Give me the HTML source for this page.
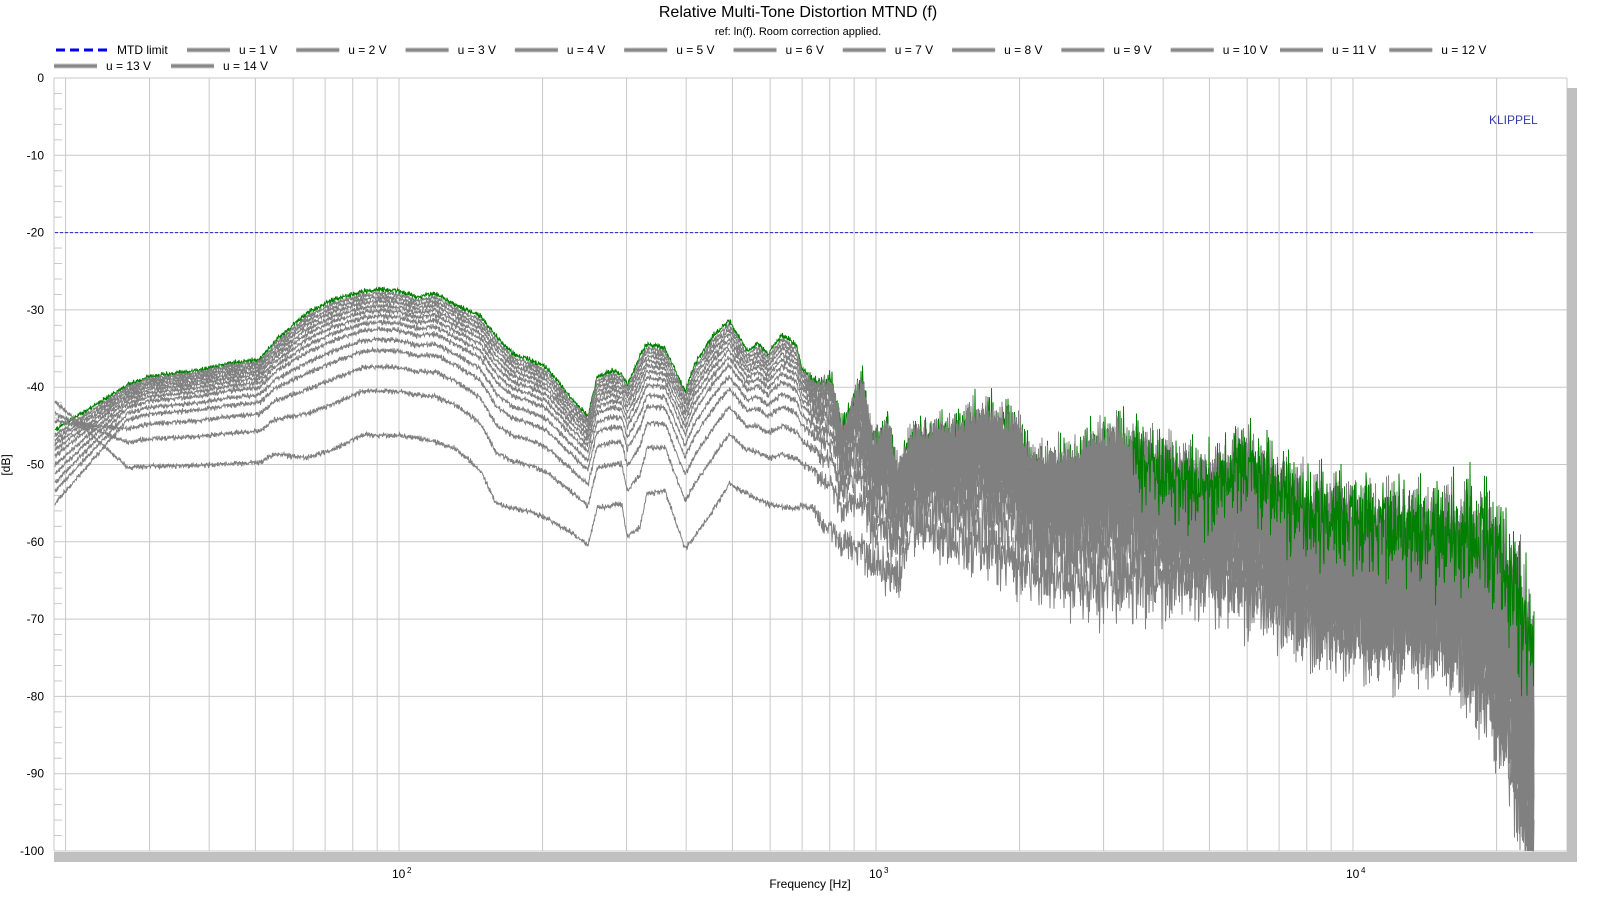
<!DOCTYPE html>
<html><head><meta charset="utf-8"><title>Relative Multi-Tone Distortion MTND (f)</title>
<style>
html,body{margin:0;padding:0;background:#fff;}
body{width:1600px;height:900px;overflow:hidden;font-family:"Liberation Sans",Arial,sans-serif;}
svg text{font-family:"Liberation Sans",Arial,sans-serif;}
</style></head>
<body>
<svg id="chart" width="1600" height="900" viewBox="0 0 1600 900" xmlns="http://www.w3.org/2000/svg">
  <text x="798" y="17" text-anchor="middle" font-size="16" fill="#000">Relative Multi-Tone Distortion MTND (f)</text>
  <text x="798" y="35" text-anchor="middle" font-size="11" fill="#000">ref: ln(f). Room correction applied.</text>
  <g id="legend"></g>
  <g id="grid"></g>
  <g id="axes"></g>
  <g id="series"></g>
  <text x="1489" y="124" font-size="12" fill="#3040a8">KLIPPEL</text>
  <text x="0" y="0" font-size="12" fill="#000" text-anchor="middle" transform="translate(10,465) rotate(-90)">[dB]</text>
  <text x="810" y="888" font-size="12" fill="#000" text-anchor="middle">Frequency [Hz]</text>
</svg>
<script>
// ---- data ----
const voltages = [1,2,3,4,5,6,7,8,9,10,11,12,13,14];
const levelsAt100 = [-45.8,-40.1,-37.0,-34.9,-33.5,-32.2,-31.3,-30.5,-29.8,-29.2,-28.6,-28.1,-27.6,-27.1];
const lf19 = [-41.3,-43.0,-44.0,-54.8,-53.2,-52.1,-50.9,-49.8,-48.6,-47.8,-47.1,-46.5,-45.9,-45.2];
const envFreq = [27,30,38,44,51,55,64,73,84,91,100,109,119,132,148,160,173,188,204,232,249,260,281,293,301,320,331,361,398,417,455,492,537,566,594,635,682,699,738,770,808,849,882,939,986,1055,1112,1196,1500,1652,1710,1946,2164,2317,2513,2964,3125,3560,4132,5012,5910,6570,7555,8090,10910,15600,18730,20840,21980,23170,23960];
const topEnv = [-39.3,-38.2,-37.4,-36.5,-36.0,-33.6,-30.0,-28.2,-27.2,-26.9,-27.1,-27.9,-27.4,-29.0,-30.3,-33.0,-35.2,-36.0,-37.0,-41.3,-43.3,-38.2,-37.4,-37.8,-39.3,-35.5,-33.9,-34.5,-40.1,-36.5,-32.9,-30.9,-34.8,-33.9,-35.2,-32.7,-34.1,-37.1,-38.2,-38.0,-37.3,-43.6,-40.1,-36.6,-43.9,-41.9,-47.0,-43.0,-41.5,-39.5,-40.0,-40.7,-46.0,-45.0,-45.0,-42.0,-41.5,-42.5,-44.5,-46.0,-42.0,-44.5,-47.0,-48.5,-49.0,-50.0,-49.5,-52.5,-55.0,-58.0,-62.0];
const botEnv = [-50.0,-49.8,-49.7,-49.5,-49.3,-48.2,-48.7,-47.6,-45.7,-45.8,-45.8,-46.1,-46.6,-47.6,-50.3,-54.6,-55.2,-55.6,-56.5,-58.5,-60.0,-55.2,-54.8,-54.6,-58.9,-57.6,-53.3,-52.9,-60.4,-58.8,-55.5,-52.0,-53.3,-54.0,-54.6,-55.0,-55.2,-54.8,-54.6,-56.3,-56.5,-58.0,-57.5,-57.7,-59.0,-59.5,-60.5,-53.0,-55.0,-55.0,-55.0,-56.5,-58.0,-58.0,-58.5,-59.0,-58.5,-58.0,-57.5,-57.0,-58.0,-59.0,-61.0,-62.0,-63.0,-62.0,-68.0,-74.0,-78.0,-82.0,-85.0];
const depthFreq = [19,700,1000,2000,5000,10000,20000,24000];
const depthDb = [0.8,1.0,8,12,15,17,20,28];
const spreadFreq = [19,3000,6000,10000,24000];
const spreadExp = [1,1,1.8,2.6,2.6];
const ripple = [0.55,0.2,0.8,0.4,0.95,0.1,0.6,0.35,0.75,0.0,0.5,0.9,0.3,0.65,0.15,0.85,0.45,0.7,0.05,0.6,0.25,1.0,0.4,0.8,0.3,0.55,0.12,0.9,0.5,0.7,0.2,0.65,0.38];
const ripple2 = [0.3,0.9,0.1,0.7,0.5,1.0,0.2,0.6,0.0,0.8,0.4,0.95,0.15,0.55,0.75,0.35,0.85,0.05,0.65,0.45,0.25,0.9,0.6,0.1,0.7,0.5,0.3,0.8,0.2];
const mtdLimit = -20;
const yTicks = [0,-10,-20,-30,-40,-50,-60,-70,-80,-90,-100];
const xDecades = [100,1000,10000];
const xDecadeExp = ['2','3','4'];
const GREEN_ON_TOP_FROM = 3500;

// ---- axes ----
const X0 = 54, X1 = 1567, Y0 = 78, Y1 = 851;
const PX_DEC = 477, X100 = 399;
const F_MIN = 18.9, F_DATA_END = 24000;
function xs(f){ return X100 + (Math.log10(f) - 2) * PX_DEC; }
function ys(db){ return Y0 + (0 - db) * (Y1 - Y0) / 100; }
function interpLog(fArr, vArr, f){
  const lf = Math.log10(f);
  if (f <= fArr[0]) return vArr[0];
  if (f >= fArr[fArr.length-1]) return vArr[vArr.length-1];
  for (let i=1;i<fArr.length;i++){
    if (f <= fArr[i]){
      const a=Math.log10(fArr[i-1]), b=Math.log10(fArr[i]);
      const t=(lf-a)/(b-a);
      return vArr[i-1] + t*(vArr[i]-vArr[i-1]);
    }
  }
}
const NS = 'http://www.w3.org/2000/svg';
function mk(tag, attrs, parent){
  const e=document.createElementNS(NS,tag);
  for (const k in attrs) e.setAttribute(k, attrs[k]);
  parent.appendChild(e); return e;
}

// grid
const grid = document.getElementById('grid');
for (let d=10; d<=10000; d*=10){
  for (let m=1;m<=9;m++){
    const f=d*m; if (f<20 || f>20000) continue;
    const x=xs(f);
    const gl = mk('line',{x1:x,y1:Y0,x2:x,y2:Y1,stroke:'#c8c8c8','stroke-width':1},grid);
    
    
  }
}
yTicks.forEach(v=>{
  const y=ys(v);
  const gl = mk('line',{x1:X0,y1:y,x2:X1,y2:y,stroke:'#c8c8c8','stroke-width':1},grid);
  
  
});
for (let v=0; v>-100; v-=2){
  if (v%10===0) continue;
  const y=ys(v);
  const t = mk('line',{x1:X0,y1:y,x2:X0+8,y2:y,stroke:'#c8c8c8','stroke-width':1},grid);
  
  
}
// frame
const axes = document.getElementById('axes');
const fr1 = mk('line',{x1:X0,y1:Y0,x2:X1,y2:Y0,stroke:'#c8c8c8','stroke-width':1},axes);
 
const fr2 = mk('line',{x1:X0,y1:Y0,x2:X0,y2:Y1,stroke:'#c8c8c8','stroke-width':1},axes);
 
const fr3 = mk('line',{x1:X1,y1:Y0,x2:X1,y2:Y1,stroke:'#c8c8c8','stroke-width':1},axes);
 
const sh1 = mk('rect',{x:X1,y:88,width:10,height:Y1+11-88,fill:'#c0c0c0'},axes);
 
const sh2 = mk('rect',{x:X0,y:Y1+1,width:X1+10-X0,height:10,fill:'#c0c0c0'},axes);
 
yTicks.forEach(v=>{
  const t = mk('text',{x:44,y:ys(v)+4,'text-anchor':'end','font-size':12,fill:'#000'},axes);
  t.textContent = String(v);
  
  
});
xDecades.forEach((f,i)=>{
  const t = mk('text',{x:xs(f)-7,y:878,'font-size':12,fill:'#000'},axes);
  t.textContent='10';
  
  
  const s = mk('text',{x:xs(f)+8,y:873,'font-size':8,fill:'#000'},axes);
  s.textContent=xDecadeExp[i];
  
  
});

// series
const series = document.getElementById('series');
const topAt100 = interpLog(envFreq, topEnv, 100), botAt100 = interpLog(envFreq, botEnv, 100);
const weights = levelsAt100.map(l => (l - botAt100) / (topAt100 - botAt100));
function level(i, f){
  const t = interpLog(envFreq, topEnv, f), b = interpLog(envFreq, botEnv, f);
  const p = interpLog(spreadFreq, spreadExp, f);
  return b + Math.pow(weights[i], p)*(t-b);
}
const xEnd = xs(F_DATA_END);
function curvePoints(i, fLo, fHi){
  const pts=[];
  let k=0;
  for (let x=X0+1; x<=xEnd; x+=0.5, k++){
    const f = Math.pow(10, 2 + (x - X100)/PX_DEC);
    if (f < fLo || f > fHi) continue;
    let v;
    if (f < envFreq[0]){
      const t = (Math.log10(f)-Math.log10(F_MIN))/(Math.log10(envFreq[0])-Math.log10(F_MIN));
      v = lf19[i] + Math.max(0,t)*(level(i,envFreq[0]) - lf19[i]);
    } else {
      v = level(i,f);
    }
    const d = interpLog(depthFreq, depthDb, f);
    const r = 0.6*ripple[(k*7 + i*5) % ripple.length] + 0.4*ripple2[(k*5 + i*3) % ripple2.length];
    v -= d * r;
    if (v < -100) v = -100;
    pts.push(x.toFixed(1)+','+ys(v).toFixed(1));
  }
  return pts.join(' ');
}
const G = voltages.length-1;
const gLow = mk('polyline',{points:curvePoints(G,0,GREEN_ON_TOP_FROM),fill:'none',stroke:'#008000','stroke-width':1},series);


for (let i=0;i<G;i++){
  const p = mk('polyline',{points:curvePoints(i,0,1e9),fill:'none',stroke:'#808080','stroke-width':1},series);
  
  
}
const gHigh = mk('polyline',{points:curvePoints(G,GREEN_ON_TOP_FROM-50,1e9),fill:'none',stroke:'#008000','stroke-width':1},series);


const lim = mk('line',{x1:X0+1,y1:ys(mtdLimit),x2:xEnd,y2:ys(mtdLimit),stroke:'#2020d0','stroke-width':1,'stroke-dasharray':'3,2'},series);



// legend
const legend = document.getElementById('legend');
function legendEntry(x, y, label, isLimit, name){
  const g = mk('g',{},legend);
  
  
  if (isLimit){
    mk('line',{x1:x,y1:y,x2:x+53,y2:y,stroke:'#0000ee','stroke-width':3,'stroke-dasharray':'9,5'},g);
    const t = mk('text',{x:x+61,y:y+4,'font-size':12,fill:'#000'},g); t.textContent=label;
  } else {
    mk('line',{x1:x,y1:y,x2:x+43,y2:y,stroke:'#c8c8c8','stroke-width':5},g);
    mk('line',{x1:x,y1:y,x2:x+43,y2:y,stroke:'#888','stroke-width':3},g);
    const t = mk('text',{x:x+52,y:y+4,'font-size':12,fill:'#000'},g); t.textContent=label;
  }
}
legendEntry(56,50,'MTD limit',true,'legend-mtd-limit');
for (let i=0;i<12;i++){
  legendEntry(187 + i*109.3, 50, 'u = '+voltages[i]+' V', false, 'legend-u-'+voltages[i]+'v');
}
legendEntry(54,66,'u = 13 V',false,'legend-u-13v');
legendEntry(171,66,'u = 14 V',false,'legend-u-14v');
</script>
</body></html>
